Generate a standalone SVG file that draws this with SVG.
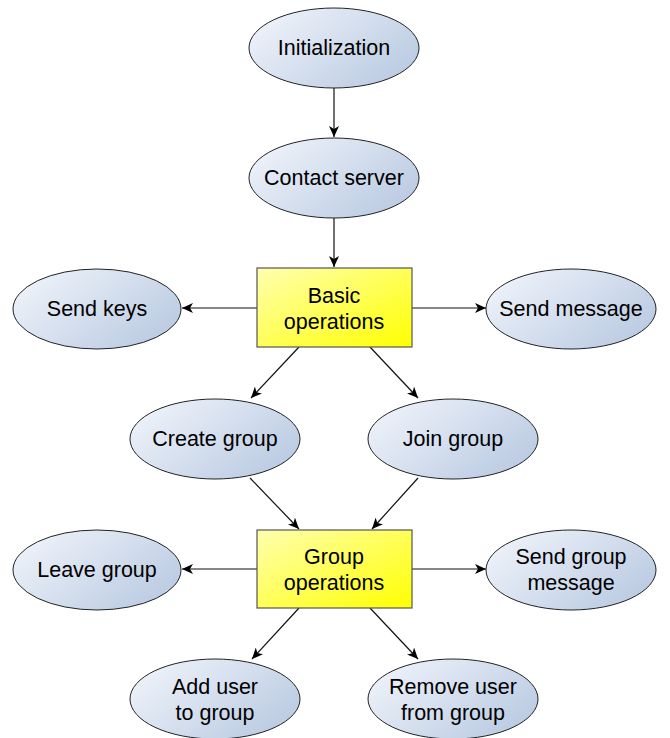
<svg xmlns="http://www.w3.org/2000/svg" width="670" height="738" viewBox="0 0 670 738">
<defs>
<linearGradient id="gE" x1="0" y1="0.2" x2="1" y2="0.8">
<stop offset="0" stop-color="#eff3fa"/>
<stop offset="1" stop-color="#b8c9e1"/>
</linearGradient>
<linearGradient id="gR" x1="0" y1="0" x2="1" y2="1">
<stop offset="0" stop-color="#ffffb0"/>
<stop offset="1" stop-color="#ffff00"/>
</linearGradient>
<marker id="arr" markerWidth="12" markerHeight="10" refX="11" refY="5" orient="auto" markerUnits="userSpaceOnUse">
<path d="M0,0 L11,5 L0,10 L3,5 Z" fill="#000"/>
</marker>
<style>
.e{fill:url(#gE);stroke:#222;stroke-width:1}
.r{fill:url(#gR);stroke:#555;stroke-width:1.2}
.t{font-family:"Liberation Sans",Arial,sans-serif;font-size:21.5px;fill:#000;text-anchor:middle}
.c{stroke:#111;stroke-width:1.2;fill:none;marker-end:url(#arr)}
</style>
</defs>
<rect width="670" height="738" fill="#fff"/>
<g id="connectors">
<line class="c" x1="334" y1="88" x2="334" y2="137"/>
<line class="c" x1="334" y1="218" x2="334" y2="267"/>
<line class="c" x1="257" y1="308" x2="182" y2="308"/>
<line class="c" x1="412" y1="308" x2="486" y2="308"/>
<line class="c" x1="299" y1="347" x2="251" y2="398"/>
<line class="c" x1="370" y1="347" x2="418" y2="398"/>
<line class="c" x1="250" y1="478" x2="299" y2="529"/>
<line class="c" x1="418" y1="478" x2="372" y2="529"/>
<line class="c" x1="257" y1="569" x2="182" y2="569"/>
<line class="c" x1="412" y1="569" x2="486" y2="569"/>
<line class="c" x1="299" y1="608" x2="252" y2="659"/>
<line class="c" x1="370" y1="608" x2="418" y2="659"/>
</g>
<g id="initialization"><ellipse class="e" cx="334" cy="48" rx="85" ry="40"/><text class="t" x="334" y="55">Initialization</text></g>
<g id="contact-server"><ellipse class="e" cx="334" cy="178" rx="85" ry="40"/><text class="t" x="334" y="185">Contact server</text></g>
<g id="basic-operations"><rect class="r" x="257" y="268" width="155" height="79"/><text class="t" x="334" y="303">Basic</text><text class="t" x="334" y="329">operations</text></g>
<g id="send-keys"><ellipse class="e" cx="97" cy="309" rx="84" ry="40"/><text class="t" x="97" y="316">Send keys</text></g>
<g id="send-message"><ellipse class="e" cx="571" cy="309" rx="85" ry="40"/><text class="t" x="571" y="316">Send message</text></g>
<g id="create-group"><ellipse class="e" cx="215" cy="439" rx="85" ry="40"/><text class="t" x="215" y="446">Create group</text></g>
<g id="join-group"><ellipse class="e" cx="453" cy="439" rx="85" ry="40"/><text class="t" x="453" y="446">Join group</text></g>
<g id="group-operations"><rect class="r" x="257" y="530" width="155" height="78"/><text class="t" x="334" y="564">Group</text><text class="t" x="334" y="590">operations</text></g>
<g id="leave-group"><ellipse class="e" cx="97" cy="570" rx="84" ry="40"/><text class="t" x="97" y="577">Leave group</text></g>
<g id="send-group-message"><ellipse class="e" cx="571" cy="570" rx="85" ry="40"/><text class="t" x="571" y="564">Send group</text><text class="t" x="571" y="590">message</text></g>
<g id="add-user"><ellipse class="e" cx="215" cy="699" rx="85" ry="40"/><text class="t" x="215" y="694">Add user</text><text class="t" x="215" y="720">to group</text></g>
<g id="remove-user"><ellipse class="e" cx="453" cy="699" rx="85" ry="40"/><text class="t" x="453" y="694">Remove user</text><text class="t" x="453" y="720">from group</text></g>
</svg>
